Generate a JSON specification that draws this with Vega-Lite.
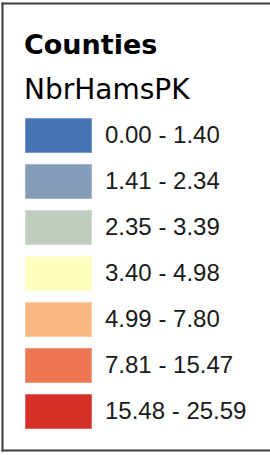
{
  "$schema": "https://vega.github.io/schema/vega-lite/v6.json",
  "width": 268,
  "height": 447,
  "autosize": "none",
  "padding": {"left": 2, "top": 3, "right": 0, "bottom": 5},
  "background": "white",
  "view": {"stroke": "transparent", "strokeWidth": 0},
  "title": {
    "text": "Counties",
    "anchor": "start",
    "frame": "group",
    "offset": -78,
    "baseline": "alphabetic",
    "dx": 22,
    "font": "DejaVu Sans",
    "fontSize": 27,
    "fontWeight": "bold",
    "color": "black"
  },
  "data": {
    "values": [
      {"range": "0.00 - 1.40"},
      {"range": "1.41 - 2.34"},
      {"range": "2.35 - 3.39"},
      {"range": "3.40 - 4.98"},
      {"range": "4.99 - 7.80"},
      {"range": "7.81 - 15.47"},
      {"range": "15.48 - 25.59"}
    ]
  },
  "layer": [
    {
      "mark": {"type": "point", "filled": true, "opacity": 0},
      "encoding": {
        "x": {"field": "range", "type": "nominal", "sort": null, "axis": {"orient": "top", "title": null}},
        "y": {"field": "range", "type": "nominal", "sort": null, "axis": {"orient": "left", "title": null}},
        "color": {
          "field": "range",
          "type": "nominal",
          "scale": {
            "domain": ["0.00 - 1.40", "1.41 - 2.34", "2.35 - 3.39", "3.40 - 4.98", "4.99 - 7.80", "7.81 - 15.47", "15.48 - 25.59"],
            "range": ["#4575b5", "#849eba", "#c0ccbe", "#ffffbf", "#fab984", "#ed7551", "#d62f27"]
          },
          "legend": {
            "title": "NbrHamsPK",
            "orient": "none",
            "legendX": 22,
            "legendY": 74,
            "padding": 0,
            "titleFont": "DejaVu Sans",
            "titleFontSize": 28,
            "titleFontWeight": "normal",
            "titleColor": "black",
            "titlePadding": 13,
            "titleLimit": 300,
            "symbolType": "M-2,-1.04H2V1.04H-2Z",
            "symbolSize": 1122,
            "symbolOffset": 17,
            "symbolStrokeWidth": 1.5,
            "symbolStrokeColor": "rgba(255,255,255,0.35)",
            "symbolOpacity": 1,
            "labelFont": "Liberation Sans",
            "labelFontSize": 24,
            "labelColor": "#1a1a1a",
            "labelOffset": 29,
            "labelLimit": 300,
            "rowPadding": 5,
            "encode": {"symbols": {"update": {"opacity": {"value": 1}}}}
          }
        }
      }
    },
    {
      "mark": {"type": "point", "opacity": 0},
      "encoding": {
        "x": {"field": "range", "type": "nominal", "sort": null, "axis": {"orient": "bottom", "title": null}}
      }
    }
  ],
  "resolve": {"axis": {"x": "independent"}},
  "config": {
    "view": {"stroke": "transparent", "strokeWidth": 0},
    "style": {"cell": {"stroke": "transparent", "strokeWidth": 0}},
    "axis": {
      "domain": true,
      "domainColor": "#3c3c3c",
      "domainWidth": 2,
      "domainCap": "square",
      "ticks": false,
      "labels": false,
      "grid": false
    },
    "axisRight": {"domain": false}
  }
}
